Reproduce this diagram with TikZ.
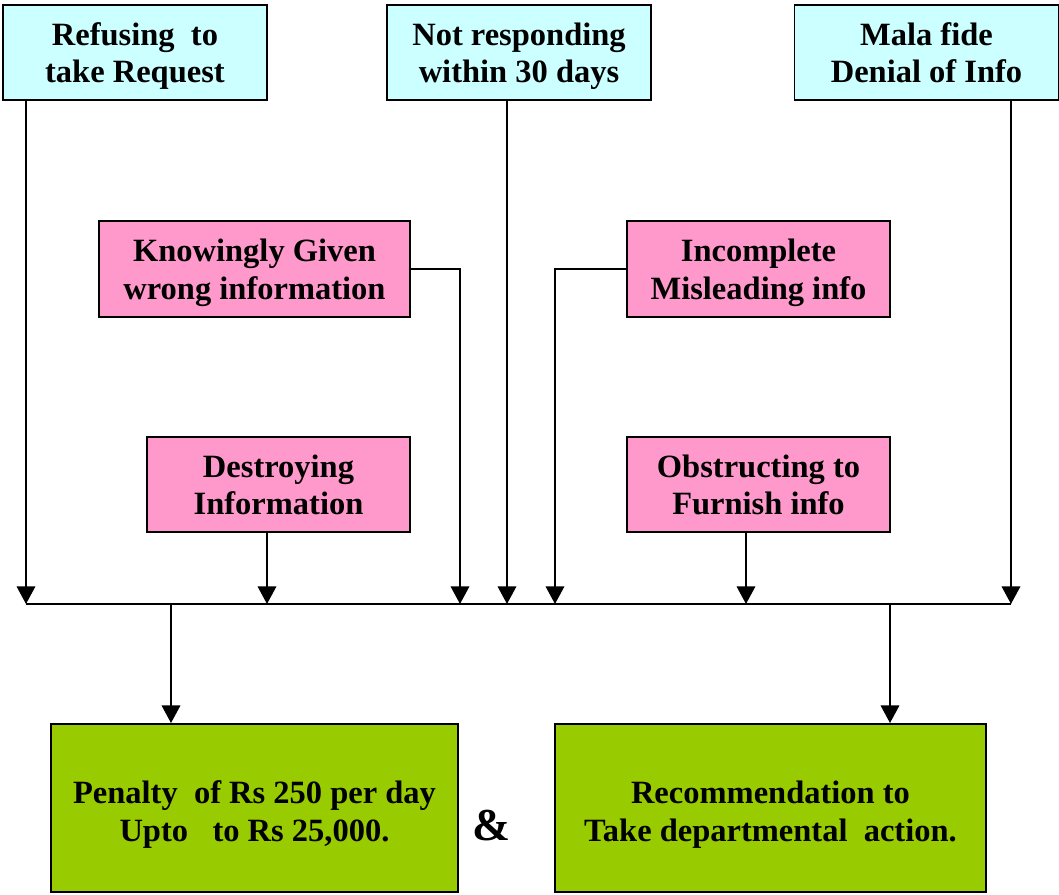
\documentclass[tikz,border=0pt]{standalone}
\usepackage{fontspec}
\setmainfont{Liberation Serif}
\usetikzlibrary{arrows.meta, calc, positioning}
\definecolor{causecol}{HTML}{CCFFFF}
\definecolor{offcol}{HTML}{FF99CC}
\definecolor{rescol}{HTML}{99CC00}
\newcommand{\boxfont}{\fontsize{18.5}{21.5}\selectfont\bfseries}
\newcommand{\topline}[1][17.5pt]{\rule{0pt}{#1}}
\newcommand{\botline}{\rule[-4.3pt]{0pt}{0pt}}

\begin{document}
\begin{tikzpicture}[x=0.02cm, y=-0.02cm, line width=1.1pt,
	cause/.style={draw, fill=causecol, align=center, font=\boxfont, minimum width=5.28cm, minimum height=1.9cm, inner sep=0pt},
	offence/.style={draw, fill=offcol, align=center, font=\boxfont, minimum width=5.26cm, minimum height=1.91cm, inner sep=0pt},
	result/.style={draw, fill=rescol, align=center, font=\boxfont, minimum height=3.36cm, inner sep=0pt},
	arr/.style={-{Triangle[width=10.5pt, length=10pt]}}]
	\useasboundingbox (0,0) rectangle (1059,895);
		% causes along the top
		\node[cause] (refuse) at (135, 52.5) {\topline Refusing\ \ to\\take Request\botline};
		\node[cause] (noreply) at (519, 52.5) {\topline Not responding\\within 30 days\botline};
		\node[cause] (malafide) at (926.5, 52.5) {\topline Mala fide\\Denial of Info\botline};
		% other offences
		\node[offence, minimum width=6.22cm] (wrong) at (254.5, 269) {\topline Knowingly Given\\wrong information\botline};
		\node[offence] (incomplete) at (758.5, 269) {\topline Incomplete\\Misleading info\botline};
		\node[offence] (destroy) at (278.5, 484.5) {\topline Destroying\\Information\botline};
		\node[offence] (obstruct) at (758.5, 484.5) {\topline Obstructing to\\Furnish info\botline};
		% consequences
		\node[result, minimum width=8.14cm] (penalty) at (254.5, 808) {\topline[20.5pt]Penalty\ \ of Rs 250 per day\\Upto\ \ \ to Rs 25,000.\botline};
		\node[result, minimum width=8.62cm] (recommend) at (770.5, 808) {\topline[20.5pt]Recommendation to\\Take departmental\ \ action.\botline};
		\node[font=\fontsize{26}{30}\selectfont\bfseries] (and) at (492, 826) {\&};
		% points on the common line
		\coordinate (b1) at (26, 604);
		\coordinate (b2) at (267, 604);
		\coordinate (b3) at (460, 604);
		\coordinate (b4) at (507, 604);
		\coordinate (b5) at (555, 604);
		\coordinate (b6) at (746, 604);
		\coordinate (b7) at (1011, 604);
		\coordinate (d1) at (171, 604);
		\coordinate (d2) at (890, 604);
		% into the common line
		\draw[arr] (refuse.south -| b1) -- (b1);
		\draw[arr] (destroy.south -| b2) -- (b2);
		\draw[arr] (wrong.east) -| (b3);
		\draw[arr] (noreply.south -| b4) -- (b4);
		\draw[arr] (incomplete.west) -| (b5);
		\draw[arr] (obstruct.south -| b6) -- (b6);
		\draw[arr] (malafide.south -| b7) -- (b7);
		\draw (b1) -- (b7);
		% out to the consequences
		\draw[arr] (d1) -- (d1 |- penalty.north);
		\draw[arr] (d2) -- (d2 |- recommend.north);
\end{tikzpicture}
\end{document}
